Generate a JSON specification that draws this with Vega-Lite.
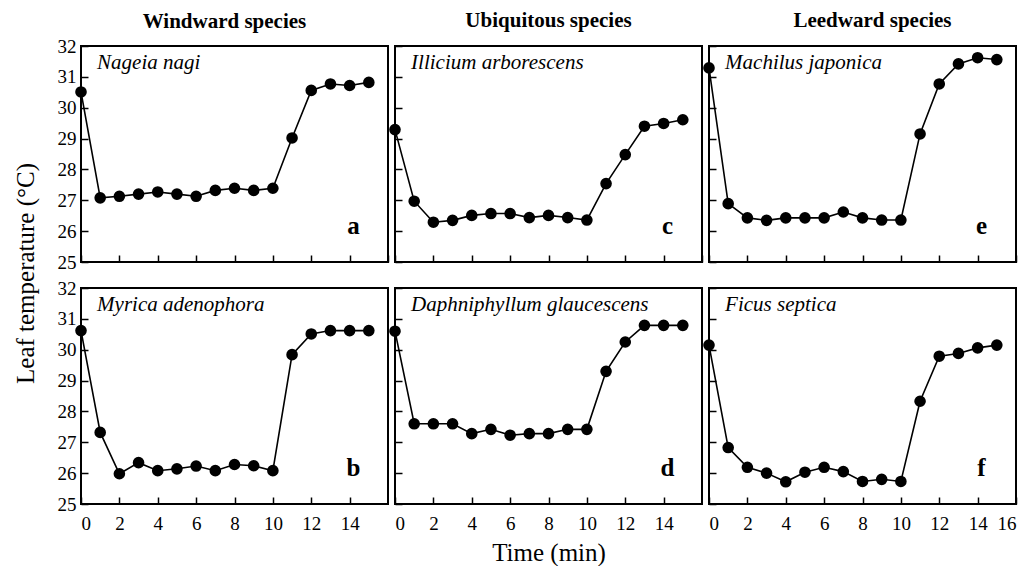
{
  "$schema": "https://vega.github.io/schema/vega-lite/v6.json",
  "background": "white",
  "padding": {"left": 12, "top": 9, "right": 4, "bottom": 0},
  "bounds": "flush",
  "columns": 3,
  "spacing": {"row": 26, "column": 7},
  "datasets": {
    "temps": [
      {"panel": "a", "time": 0, "temp": 30.51}, {"panel": "a", "time": 1, "temp": 27.08}, {"panel": "a", "time": 2, "temp": 27.13}, {"panel": "a", "time": 3, "temp": 27.2},
      {"panel": "a", "time": 4, "temp": 27.27}, {"panel": "a", "time": 5, "temp": 27.2}, {"panel": "a", "time": 6, "temp": 27.13}, {"panel": "a", "time": 7, "temp": 27.32},
      {"panel": "a", "time": 8, "temp": 27.39}, {"panel": "a", "time": 9, "temp": 27.32}, {"panel": "a", "time": 10, "temp": 27.39}, {"panel": "a", "time": 11, "temp": 29.02},
      {"panel": "a", "time": 12, "temp": 30.56}, {"panel": "a", "time": 13, "temp": 30.77}, {"panel": "a", "time": 14, "temp": 30.72}, {"panel": "a", "time": 15, "temp": 30.82},
      {"panel": "b", "time": 0, "temp": 30.62}, {"panel": "b", "time": 1, "temp": 27.32}, {"panel": "b", "time": 2, "temp": 25.98}, {"panel": "b", "time": 3, "temp": 26.34},
      {"panel": "b", "time": 4, "temp": 26.08}, {"panel": "b", "time": 5, "temp": 26.14}, {"panel": "b", "time": 6, "temp": 26.23}, {"panel": "b", "time": 7, "temp": 26.08},
      {"panel": "b", "time": 8, "temp": 26.28}, {"panel": "b", "time": 9, "temp": 26.24}, {"panel": "b", "time": 10, "temp": 26.08}, {"panel": "b", "time": 11, "temp": 29.84},
      {"panel": "b", "time": 12, "temp": 30.51}, {"panel": "b", "time": 13, "temp": 30.62}, {"panel": "b", "time": 14, "temp": 30.62}, {"panel": "b", "time": 15, "temp": 30.62},
      {"panel": "c", "time": 0, "temp": 29.29}, {"panel": "c", "time": 1, "temp": 26.97}, {"panel": "c", "time": 2, "temp": 26.29}, {"panel": "c", "time": 3, "temp": 26.35},
      {"panel": "c", "time": 4, "temp": 26.51}, {"panel": "c", "time": 5, "temp": 26.57}, {"panel": "c", "time": 6, "temp": 26.57}, {"panel": "c", "time": 7, "temp": 26.44},
      {"panel": "c", "time": 8, "temp": 26.51}, {"panel": "c", "time": 9, "temp": 26.44}, {"panel": "c", "time": 10, "temp": 26.36}, {"panel": "c", "time": 11, "temp": 27.54},
      {"panel": "c", "time": 12, "temp": 28.48}, {"panel": "c", "time": 13, "temp": 29.4}, {"panel": "c", "time": 14, "temp": 29.49}, {"panel": "c", "time": 15, "temp": 29.61},
      {"panel": "d", "time": 0, "temp": 30.6}, {"panel": "d", "time": 1, "temp": 27.6}, {"panel": "d", "time": 2, "temp": 27.6}, {"panel": "d", "time": 3, "temp": 27.6},
      {"panel": "d", "time": 4, "temp": 27.28}, {"panel": "d", "time": 5, "temp": 27.42}, {"panel": "d", "time": 6, "temp": 27.23}, {"panel": "d", "time": 7, "temp": 27.28},
      {"panel": "d", "time": 8, "temp": 27.28}, {"panel": "d", "time": 9, "temp": 27.42}, {"panel": "d", "time": 10, "temp": 27.42}, {"panel": "d", "time": 11, "temp": 29.3},
      {"panel": "d", "time": 12, "temp": 30.25}, {"panel": "d", "time": 13, "temp": 30.79}, {"panel": "d", "time": 14, "temp": 30.79}, {"panel": "d", "time": 15, "temp": 30.79},
      {"panel": "e", "time": 0, "temp": 31.29}, {"panel": "e", "time": 1, "temp": 26.89}, {"panel": "e", "time": 2, "temp": 26.43}, {"panel": "e", "time": 3, "temp": 26.35},
      {"panel": "e", "time": 4, "temp": 26.43}, {"panel": "e", "time": 5, "temp": 26.43}, {"panel": "e", "time": 6, "temp": 26.43}, {"panel": "e", "time": 7, "temp": 26.62},
      {"panel": "e", "time": 8, "temp": 26.43}, {"panel": "e", "time": 9, "temp": 26.36}, {"panel": "e", "time": 10, "temp": 26.36}, {"panel": "e", "time": 11, "temp": 29.15},
      {"panel": "e", "time": 12, "temp": 30.77}, {"panel": "e", "time": 13, "temp": 31.42}, {"panel": "e", "time": 14, "temp": 31.62}, {"panel": "e", "time": 15, "temp": 31.56},
      {"panel": "f", "time": 0, "temp": 30.15}, {"panel": "f", "time": 1, "temp": 26.83}, {"panel": "f", "time": 2, "temp": 26.19}, {"panel": "f", "time": 3, "temp": 26.0},
      {"panel": "f", "time": 4, "temp": 25.72}, {"panel": "f", "time": 5, "temp": 26.03}, {"panel": "f", "time": 6, "temp": 26.19}, {"panel": "f", "time": 7, "temp": 26.05},
      {"panel": "f", "time": 8, "temp": 25.73}, {"panel": "f", "time": 9, "temp": 25.8}, {"panel": "f", "time": 10, "temp": 25.73}, {"panel": "f", "time": 11, "temp": 28.33},
      {"panel": "f", "time": 12, "temp": 29.79}, {"panel": "f", "time": 13, "temp": 29.88}, {"panel": "f", "time": 14, "temp": 30.06}, {"panel": "f", "time": 15, "temp": 30.15}
    ],
    "labels": [
      {"panel": "a", "species": "Nageia nagi", "letter": "a"},
      {"panel": "b", "species": "Myrica adenophora", "letter": "b"},
      {"panel": "c", "species": "Illicium arborescens", "letter": "c"},
      {"panel": "d", "species": "Daphniphyllum glaucescens", "letter": "d"},
      {"panel": "e", "species": "Machilus japonica", "letter": "e"},
      {"panel": "f", "species": "Ficus septica", "letter": "f"}
    ]
  },
  "config": {
    "view": {"stroke": "black", "strokeWidth": 2},
    "axis": {
      "grid": false, "domain": false, "tickColor": "black", "tickWidth": 1.5, "tickSize": -7, "tickCount": 20, "labelOverlap": false, "format": "d",
      "labelFont": "Liberation Serif", "labelFontSize": 19, "labelColor": "black",
      "titleFont": "Liberation Serif", "titleFontSize": 25, "titleFontWeight": "normal", "titleColor": "black"
    },
    "title": {"font": "Liberation Serif", "fontSize": 21, "fontWeight": "bold", "color": "black", "offset": 14}
  },
  "concat": [
    {
      "width": 307, "height": 216,
      "title": {"text": "Windward species", "dx": -10, "dy": 9},
      "layer": [
        {"data": {"name": "temps"}, "transform": [{"filter": "datum.panel === 'a'"}], "mark": {"type": "line", "color": "black", "strokeWidth": 1.6},
         "encoding": {"x": {"field": "time", "type": "quantitative", "scale": {"domain": [0, 16]}, "axis": {"values": [0, 2, 4, 6, 8, 10, 12, 14, 16], "tickCount": 20, "format": "d", "labels": false, "title": null}},
                      "y": {"field": "temp", "type": "quantitative", "scale": {"domain": [25, 32]}, "axis": {"values": [25, 26, 27, 28, 29, 30, 31, 32], "tickCount": 20, "format": "d", "labelPadding": 12, "title": "Leaf temperature (°C)", "titleY": 227, "titleX": -43, "titleAnchor": "middle", "titleAlign": "center"}}}},
        {"data": {"name": "temps"}, "transform": [{"filter": "datum.panel === 'a'"}], "mark": {"type": "point", "filled": true, "color": "black", "opacity": 1, "size": 135},
         "encoding": {"x": {"field": "time", "type": "quantitative"}, "y": {"field": "temp", "type": "quantitative"}}},
        {"data": {"name": "labels"}, "transform": [{"filter": "datum.panel === 'a'"}], "mark": {"type": "text", "align": "left", "baseline": "middle", "font": "Liberation Serif", "fontStyle": "italic", "fontSize": 21, "color": "black"},
         "encoding": {"x": {"datum": 0.84, "type": "quantitative"}, "y": {"datum": 31.45, "type": "quantitative"}, "text": {"field": "species"}}},
        {"data": {"name": "labels"}, "transform": [{"filter": "datum.panel === 'a'"}], "mark": {"type": "text", "align": "center", "baseline": "alphabetic", "font": "Liberation Serif", "fontWeight": "bold", "fontSize": 25, "color": "black"},
         "encoding": {"x": {"datum": 14.2, "type": "quantitative"}, "y": {"datum": 25.9, "type": "quantitative"}, "text": {"field": "letter"}}}
      ]
    },
    {
      "width": 307, "height": 216,
      "title": {"text": "Ubiquitous species"},
      "layer": [
        {"data": {"name": "temps"}, "transform": [{"filter": "datum.panel === 'c'"}], "mark": {"type": "line", "color": "black", "strokeWidth": 1.6},
         "encoding": {"x": {"field": "time", "type": "quantitative", "scale": {"domain": [0, 16]}, "axis": {"values": [0, 2, 4, 6, 8, 10, 12, 14, 16], "tickCount": 20, "format": "d", "labels": false, "title": null}},
                      "y": {"field": "temp", "type": "quantitative", "scale": {"domain": [25, 32]}, "axis": {"values": [25, 26, 27, 28, 29, 30, 31, 32], "tickCount": 20, "format": "d", "labels": false, "title": null}}}},
        {"data": {"name": "temps"}, "transform": [{"filter": "datum.panel === 'c'"}], "mark": {"type": "point", "filled": true, "color": "black", "opacity": 1, "size": 135},
         "encoding": {"x": {"field": "time", "type": "quantitative"}, "y": {"field": "temp", "type": "quantitative"}}},
        {"data": {"name": "labels"}, "transform": [{"filter": "datum.panel === 'c'"}], "mark": {"type": "text", "align": "left", "baseline": "middle", "font": "Liberation Serif", "fontStyle": "italic", "fontSize": 21, "color": "black"},
         "encoding": {"x": {"datum": 0.84, "type": "quantitative"}, "y": {"datum": 31.45, "type": "quantitative"}, "text": {"field": "species"}}},
        {"data": {"name": "labels"}, "transform": [{"filter": "datum.panel === 'c'"}], "mark": {"type": "text", "align": "center", "baseline": "alphabetic", "font": "Liberation Serif", "fontWeight": "bold", "fontSize": 25, "color": "black"},
         "encoding": {"x": {"datum": 14.2, "type": "quantitative"}, "y": {"datum": 25.9, "type": "quantitative"}, "text": {"field": "letter"}}}
      ]
    },
    {
      "width": 307, "height": 216,
      "title": {"text": "Leedward species", "dx": 10},
      "layer": [
        {"data": {"name": "temps"}, "transform": [{"filter": "datum.panel === 'e'"}], "mark": {"type": "line", "color": "black", "strokeWidth": 1.6},
         "encoding": {"x": {"field": "time", "type": "quantitative", "scale": {"domain": [0, 16]}, "axis": {"values": [0, 2, 4, 6, 8, 10, 12, 14, 16], "tickCount": 20, "format": "d", "labels": false, "title": null}},
                      "y": {"field": "temp", "type": "quantitative", "scale": {"domain": [25, 32]}, "axis": {"values": [25, 26, 27, 28, 29, 30, 31, 32], "tickCount": 20, "format": "d", "labels": false, "title": null}}}},
        {"data": {"name": "temps"}, "transform": [{"filter": "datum.panel === 'e'"}], "mark": {"type": "point", "filled": true, "color": "black", "opacity": 1, "size": 135},
         "encoding": {"x": {"field": "time", "type": "quantitative"}, "y": {"field": "temp", "type": "quantitative"}}},
        {"data": {"name": "labels"}, "transform": [{"filter": "datum.panel === 'e'"}], "mark": {"type": "text", "align": "left", "baseline": "middle", "font": "Liberation Serif", "fontStyle": "italic", "fontSize": 21, "color": "black"},
         "encoding": {"x": {"datum": 0.84, "type": "quantitative"}, "y": {"datum": 31.45, "type": "quantitative"}, "text": {"field": "species"}}},
        {"data": {"name": "labels"}, "transform": [{"filter": "datum.panel === 'e'"}], "mark": {"type": "text", "align": "center", "baseline": "alphabetic", "font": "Liberation Serif", "fontWeight": "bold", "fontSize": 25, "color": "black"},
         "encoding": {"x": {"datum": 14.2, "type": "quantitative"}, "y": {"datum": 25.9, "type": "quantitative"}, "text": {"field": "letter"}}}
      ]
    },
    {
      "width": 307, "height": 216,
      "layer": [
        {"data": {"name": "temps"}, "transform": [{"filter": "datum.panel === 'b'"}], "mark": {"type": "line", "color": "black", "strokeWidth": 1.6},
         "encoding": {"x": {"field": "time", "type": "quantitative", "scale": {"domain": [0, 16]}, "axis": {"values": [0, 2, 4, 6, 8, 10, 12, 14], "tickCount": 20, "format": "d", "labelPadding": 17, "title": null}},
                      "y": {"field": "temp", "type": "quantitative", "scale": {"domain": [25, 32]}, "axis": {"values": [25, 26, 27, 28, 29, 30, 31, 32], "tickCount": 20, "format": "d", "labelPadding": 12, "title": null}}}},
        {"data": {"name": "temps"}, "transform": [{"filter": "datum.panel === 'b'"}], "mark": {"type": "point", "filled": true, "color": "black", "opacity": 1, "size": 135},
         "encoding": {"x": {"field": "time", "type": "quantitative"}, "y": {"field": "temp", "type": "quantitative"}}},
        {"data": {"name": "labels"}, "transform": [{"filter": "datum.panel === 'b'"}], "mark": {"type": "text", "align": "left", "baseline": "middle", "font": "Liberation Serif", "fontStyle": "italic", "fontSize": 21, "color": "black"},
         "encoding": {"x": {"datum": 0.84, "type": "quantitative"}, "y": {"datum": 31.45, "type": "quantitative"}, "text": {"field": "species"}}},
        {"data": {"name": "labels"}, "transform": [{"filter": "datum.panel === 'b'"}], "mark": {"type": "text", "align": "center", "baseline": "alphabetic", "font": "Liberation Serif", "fontWeight": "bold", "fontSize": 25, "color": "black"},
         "encoding": {"x": {"datum": 14.2, "type": "quantitative"}, "y": {"datum": 25.9, "type": "quantitative"}, "text": {"field": "letter"}}}
      ]
    },
    {
      "width": 307, "height": 216,
      "layer": [
        {"data": {"name": "temps"}, "transform": [{"filter": "datum.panel === 'd'"}], "mark": {"type": "line", "color": "black", "strokeWidth": 1.6},
         "encoding": {"x": {"field": "time", "type": "quantitative", "scale": {"domain": [0, 16]}, "axis": {"values": [0, 2, 4, 6, 8, 10, 12, 14], "tickCount": 20, "format": "d", "labelPadding": 17, "title": "Time (min)", "titlePadding": 7, "titleFontSize": 25}},
                      "y": {"field": "temp", "type": "quantitative", "scale": {"domain": [25, 32]}, "axis": {"values": [25, 26, 27, 28, 29, 30, 31, 32], "tickCount": 20, "format": "d", "labels": false, "title": null}}}},
        {"data": {"name": "temps"}, "transform": [{"filter": "datum.panel === 'd'"}], "mark": {"type": "point", "filled": true, "color": "black", "opacity": 1, "size": 135},
         "encoding": {"x": {"field": "time", "type": "quantitative"}, "y": {"field": "temp", "type": "quantitative"}}},
        {"data": {"name": "labels"}, "transform": [{"filter": "datum.panel === 'd'"}], "mark": {"type": "text", "align": "left", "baseline": "middle", "font": "Liberation Serif", "fontStyle": "italic", "fontSize": 21, "color": "black"},
         "encoding": {"x": {"datum": 0.84, "type": "quantitative"}, "y": {"datum": 31.45, "type": "quantitative"}, "text": {"field": "species"}}},
        {"data": {"name": "labels"}, "transform": [{"filter": "datum.panel === 'd'"}], "mark": {"type": "text", "align": "center", "baseline": "alphabetic", "font": "Liberation Serif", "fontWeight": "bold", "fontSize": 25, "color": "black"},
         "encoding": {"x": {"datum": 14.2, "type": "quantitative"}, "y": {"datum": 25.9, "type": "quantitative"}, "text": {"field": "letter"}}}
      ]
    },
    {
      "width": 307, "height": 216,
      "layer": [
        {"data": {"name": "temps"}, "transform": [{"filter": "datum.panel === 'f'"}], "mark": {"type": "line", "color": "black", "strokeWidth": 1.6},
         "encoding": {"x": {"field": "time", "type": "quantitative", "scale": {"domain": [0, 16]}, "axis": {"values": [0, 2, 4, 6, 8, 10, 12, 14, 16], "tickCount": 20, "format": "d", "labelPadding": 17, "title": null}},
                      "y": {"field": "temp", "type": "quantitative", "scale": {"domain": [25, 32]}, "axis": {"values": [25, 26, 27, 28, 29, 30, 31, 32], "tickCount": 20, "format": "d", "labels": false, "title": null}}}},
        {"data": {"name": "temps"}, "transform": [{"filter": "datum.panel === 'f'"}], "mark": {"type": "point", "filled": true, "color": "black", "opacity": 1, "size": 135},
         "encoding": {"x": {"field": "time", "type": "quantitative"}, "y": {"field": "temp", "type": "quantitative"}}},
        {"data": {"name": "labels"}, "transform": [{"filter": "datum.panel === 'f'"}], "mark": {"type": "text", "align": "left", "baseline": "middle", "font": "Liberation Serif", "fontStyle": "italic", "fontSize": 21, "color": "black"},
         "encoding": {"x": {"datum": 0.84, "type": "quantitative"}, "y": {"datum": 31.45, "type": "quantitative"}, "text": {"field": "species"}}},
        {"data": {"name": "labels"}, "transform": [{"filter": "datum.panel === 'f'"}], "mark": {"type": "text", "align": "center", "baseline": "alphabetic", "font": "Liberation Serif", "fontWeight": "bold", "fontSize": 25, "color": "black"},
         "encoding": {"x": {"datum": 14.2, "type": "quantitative"}, "y": {"datum": 25.9, "type": "quantitative"}, "text": {"field": "letter"}}}
      ]
    }
  ]
}
